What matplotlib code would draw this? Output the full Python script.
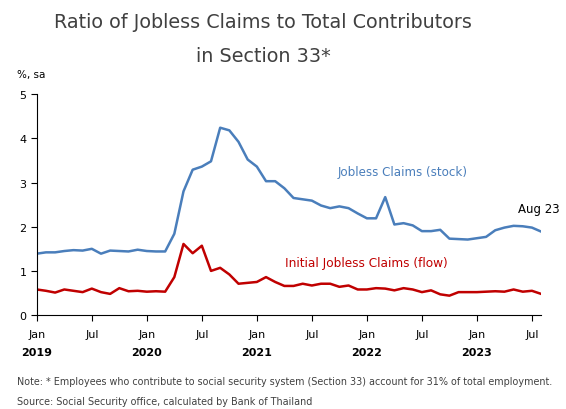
import matplotlib
matplotlib.use("Agg")
import matplotlib.pyplot as plt
import matplotlib.transforms as mtransforms

# monthly, Jan 2019 - Aug 2023
stock = [
    1.39, 1.42, 1.42, 1.45, 1.47, 1.46, 1.50, 1.39, 1.46, 1.45, 1.44, 1.48,
    1.45, 1.44, 1.44, 1.84, 2.80, 3.29, 3.36, 3.48, 4.24, 4.18, 3.92, 3.52,
    3.36, 3.03, 3.03, 2.87, 2.65, 2.62, 2.59, 2.48, 2.42, 2.46, 2.42, 2.30,
    2.19, 2.19, 2.67, 2.05, 2.08, 2.03, 1.90, 1.90, 1.93, 1.73, 1.72, 1.71,
    1.74, 1.77, 1.92, 1.98, 2.02, 2.01, 1.98, 1.89,
]
flow = [
    0.58, 0.55, 0.51, 0.58, 0.55, 0.52, 0.60, 0.52, 0.48, 0.61, 0.54, 0.55,
    0.53, 0.54, 0.53, 0.86, 1.61, 1.40, 1.57, 1.00, 1.07, 0.92, 0.71, 0.73,
    0.75, 0.86, 0.75, 0.66, 0.66, 0.71, 0.67, 0.71, 0.71, 0.64, 0.67, 0.58,
    0.58, 0.61, 0.60, 0.56, 0.61, 0.58, 0.52, 0.56, 0.47, 0.44, 0.52, 0.52,
    0.52, 0.53, 0.54, 0.53, 0.58, 0.53, 0.55, 0.48,
]
tick_labels = ["Jan", "Jul"] * 5
years = ["2019", "2020", "2021", "2022", "2023"]

blue = "#4a7ebb"
red = "#c00000"

fig = plt.figure(figsize=(5.66, 4.10), dpi=100)
ax = fig.add_axes([0.065, 0.229, 0.891, 0.539])

months = list(range(len(stock)))
ax.plot(months, stock, color=blue, linewidth=1.8)
ax.plot(months, flow, color=red, linewidth=1.8)

ax.set_xlim(0, len(stock) - 1)
ax.set_ylim(0, 5)
ax.set_yticks(range(6))
ax.set_xticks(range(0, 60, 6))
ax.set_xticklabels(tick_labels)
ax.tick_params(axis="both", labelsize=8, direction="out", length=4, color="black")
ax.tick_params(axis="x", pad=6)
for s in ["top", "right"]:
    ax.spines[s].set_visible(False)

trans = mtransforms.blended_transform_factory(ax.transData, ax.transAxes)
for k, yr in enumerate(years):
    ax.text(k * 12, -0.167, yr, transform=trans, ha="center", va="center",
            fontsize=8, fontweight="bold")

ax.text(32.8, 3.25, "Jobless Claims (stock)", color=blue, fontsize=8.6, va="center")
ax.text(27.1, 1.18, "Initial Jobless Claims (flow)", color=red, fontsize=8.7, va="center")
ax.text(52.5, 2.42, "Aug 23", color="black", fontsize=8.5, va="center")

fig.text(0.465, 0.946, "Ratio of Jobless Claims to Total Contributors", ha="center",
         va="center", fontsize=13.8, color="#404040")
fig.text(0.465, 0.861, "in Section 33*", ha="center", va="center", fontsize=13.8,
         color="#404040")
fig.text(0.03, 0.817, "%, sa", fontsize=7.5, va="center")

fig.text(0.03, 0.068, "Note: * Employees who contribute to social security system (Section 33) "
         "account for 31% of total employment.", fontsize=6.9, color="#404040", va="center")
fig.text(0.03, 0.019, "Source: Social Security office, calculated by Bank of Thailand",
         fontsize=6.9, color="#404040", va="center")

fig.savefig("out.png", dpi=100)
